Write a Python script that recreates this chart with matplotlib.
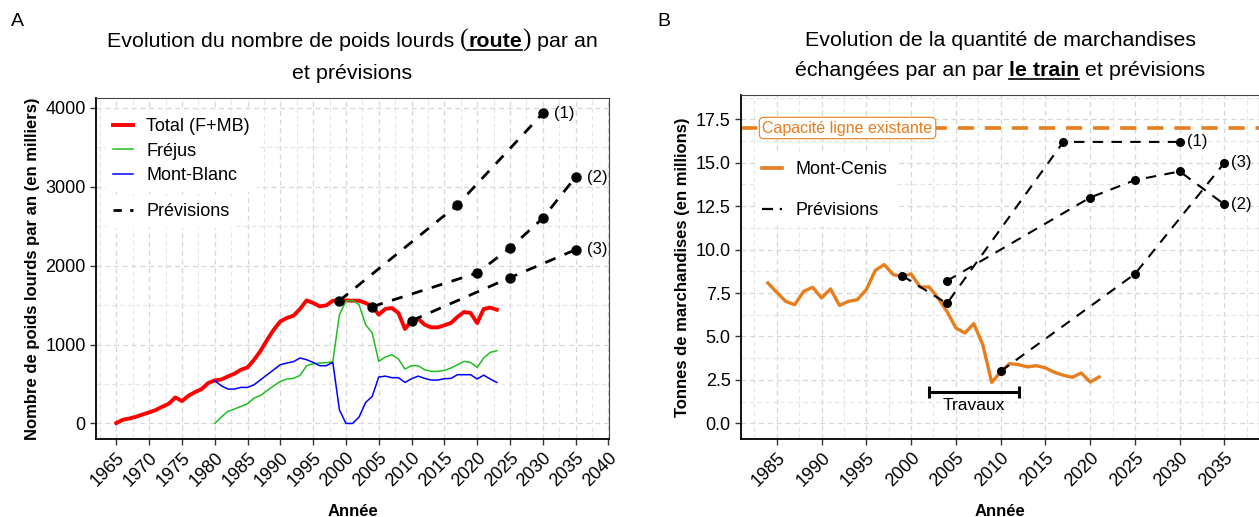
import matplotlib
matplotlib.use("Agg")
import matplotlib.pyplot as plt
from matplotlib.lines import Line2D
import numpy as np

plt.rcParams['font.family'] = ['Liberation Sans', 'DejaVu Sans']

# ---------------- données panneau A (milliers de poids lourds) ----------------
annees_total = list(range(1965, 2024))
total = [5, 47, 63, 85, 114, 140, 170, 212, 250, 330, 284, 351, 398, 436, 512,
         546, 557, 596, 631, 681, 710, 808, 922, 1062, 1189, 1294, 1337, 1366, 1451, 1560,
         1527, 1484, 1497, 1556, 1556, 1560, 1556, 1556, 1527, 1484, 1379, 1451, 1463, 1400, 1197,
         1303, 1328, 1252, 1218, 1218, 1244, 1273, 1350, 1413, 1400, 1273, 1451, 1468, 1442]

annees_tunnels = list(range(1980, 2024))
frejus = [0, 81, 152, 182, 216, 250, 322, 355, 419, 478, 533, 563, 571, 609, 732,
          757, 766, 770, 783, 1379, 1550, 1560, 1506, 1252, 1147, 787, 842, 871, 817, 690,
          732, 732, 681, 660, 660, 672, 702, 745, 787, 774, 710, 830, 901, 922]
mont_blanc = [541, 478, 436, 436, 457, 457, 491, 554, 618, 681, 745, 766, 783, 830, 808,
              774, 732, 732, 774, 174, 0, 0, 81, 266, 343, 588, 600, 580, 580, 520,
              567, 600, 571, 550, 550, 567, 571, 618, 618, 618, 563, 613, 563, 520]

prev_a_annees = [[1999, 2017, 2030], [2004, 2020, 2025, 2030, 2035], [2010, 2025, 2035]]
prev_a_valeurs = [[1556, 2770, 3930], [1480, 1907, 2223, 2601, 3122], [1302, 1848, 2202]]
prev_labels = ["(1)", "(2)", "(3)"]

# ---------------- données panneau B (millions de tonnes) ----------------
annees_mc = list(range(1984, 2022))
mont_cenis = [8.08, 7.54, 7.02, 6.83, 7.60, 7.83, 7.22, 7.74, 6.79, 7.02, 7.12, 7.70, 8.81, 9.14, 8.56,
              8.46, 8.60, 7.85, 7.85, 7.22, 6.45, 5.49, 5.20, 5.74, 4.53, 2.36, 2.96, 3.44, 3.38, 3.25,
              3.32, 3.19, 2.94, 2.77, 2.65, 2.90, 2.38, 2.67]

prev_b_annees = [[1999, 2004, 2017, 2030], [2004, 2020, 2025, 2030, 2035], [2010, 2025, 2035]]
prev_b_valeurs = [[8.5, 6.9, 16.2, 16.2], [8.2, 13.0, 14.0, 14.5, 12.6], [3.0, 8.6, 15.0]]
prev_b_labels = ["(1)", "(2)", "(3)"]

capacite = 17
travaux_debut, travaux_fin, travaux_y = 2002, 2012, 1.8

ROUGE = '#ff0000'
VERT = '#1fbf1f'
BLEU = '#0000ff'
ORANGE = '#e87d1e'

W, H = 1259, 517
fig = plt.figure(figsize=(W / 100, H / 100), dpi=100)


def fx(px):
    return px / W


def fy(py):
    return 1 - py / H


def style_axes(ax, xmaj, xmin, ymaj, ymin):
    ax.set_facecolor('white')
    ax.set_xticks(xmaj)
    ax.set_xticks(xmin, minor=True)
    ax.set_yticks(ymaj)
    ax.set_yticks(ymin, minor=True)
    ax.grid(True, which='major', color='#d6d6d6', ls=(0, (4, 3)), lw=0.9)
    ax.grid(True, which='minor', color='#e4e4e4', ls=(0, (4, 3)), lw=0.8)
    ax.set_axisbelow(True)
    for s in ['top', 'right']:
        ax.spines[s].set_color('#444444')
        ax.spines[s].set_linewidth(0.8)
    for s in ['left', 'bottom']:
        ax.spines[s].set_color('black')
        ax.spines[s].set_linewidth(1.3)
    ax.tick_params(which='major', length=4, width=1, color='#333333', labelsize=13, labelcolor='black')
    ax.tick_params(which='minor', length=0)
    for lab in ax.get_xticklabels():
        lab.set_rotation(45)
        lab.set_ha('right')
        lab.set_va('top')
        lab.set_rotation_mode('anchor')


def legende_blanche(leg):
    leg.get_frame().set_facecolor('white')
    leg.get_frame().set_edgecolor('none')
    leg.get_frame().set_alpha(1)


# ---------------- panneau A ----------------
axA = fig.add_axes([fx(96), fy(439), fx(609) - fx(96), fy(98) - fy(439)])
axA.plot(annees_total, total, color=ROUGE, lw=2.8, solid_joinstyle='round', zorder=3)
axA.plot(annees_tunnels, frejus, color=VERT, lw=1.1, zorder=3)
axA.plot(annees_tunnels, mont_blanc, color=BLEU, lw=1.1, zorder=3)
for xs, ys, lab in zip(prev_a_annees, prev_a_valeurs, prev_labels):
    axA.plot(xs, ys, color='black', lw=2.0, ls=(0, (4, 3.5)), zorder=4)
    axA.plot(xs, ys, 'o', color='black', ms=6.5, zorder=5)
    axA.annotate(lab, (xs[-1], ys[-1]), xytext=(8, 0), textcoords='offset points',
                 fontsize=12, va='center', ha='left')
axA.set_xlim(1961.9, 2040.1)
axA.set_ylim(-197, 4125)
style_axes(axA, np.arange(1965, 2041, 5), np.arange(1962.5, 2041, 5),
           np.arange(0, 4001, 1000), np.arange(500, 4001, 1000))
axA.set_xlabel("Année", fontsize=12, fontweight='bold', labelpad=10)
axA.set_ylabel("Nombre de poids lourds par an (en milliers)", fontsize=12, fontweight='bold', labelpad=4)

hA = [Line2D([], [], color=ROUGE, lw=2.8),
      Line2D([], [], color=VERT, lw=1.1),
      Line2D([], [], color=BLEU, lw=1.1)]
legA = axA.legend(hA, ["Total (F+MB)", "Fréjus", "Mont-Blanc"], loc='upper left',
                  bbox_to_anchor=(0.0195, 0.962), fontsize=13, handlelength=1.1, handletextpad=0.72,
                  labelspacing=0.42, frameon=True, borderaxespad=0, borderpad=0.4)
legende_blanche(legA)
axA.add_artist(legA)
legA2 = axA.legend([Line2D([], [], color='black', lw=2.0, ls=(0, (3, 3)))], ["Prévisions"],
                   loc='upper left', bbox_to_anchor=(0.0195, 0.712), fontsize=13, handlelength=1.1,
                   handletextpad=0.72, frameon=True, borderaxespad=0, borderpad=0.4)
legende_blanche(legA2)

# ---------------- panneau B ----------------
axB = fig.add_axes([fx(741), fy(439), fx(1258.5) - fx(741), fy(95) - fy(439)])
axB.axhline(capacite, color=ORANGE, lw=2.6, ls=(0, (4.5, 3)), zorder=2)
axB.plot(annees_mc, mont_cenis, color=ORANGE, lw=2.4, zorder=3)
for xs, ys, lab in zip(prev_b_annees, prev_b_valeurs, prev_b_labels):
    axB.plot(xs, ys, color='black', lw=1.5, ls=(0, (5, 4)), zorder=4)
    axB.plot(xs, ys, 'o', color='black', ms=5.5, zorder=5)
    axB.annotate(lab, (xs[-1], ys[-1]), xytext=(5, 0), textcoords='offset points',
                 fontsize=12, va='center', ha='left')
axB.errorbar((travaux_debut + travaux_fin) / 2, travaux_y, xerr=(travaux_fin - travaux_debut) / 2,
             color='black', lw=2.2, capsize=4, capthick=2.2, zorder=4)
axB.text((travaux_debut + travaux_fin) / 2, travaux_y - 0.35, "Travaux", fontsize=12.5,
         ha='center', va='top')
axB.text(1992.9, capacite, "Capacité ligne existante", fontsize=11.5, color=ORANGE,
         ha='center', va='center', zorder=6,
         bbox=dict(boxstyle='round,pad=0.2,rounding_size=0.3', fc='white', ec=ORANGE, lw=0.8))
axB.set_xlim(1981.0, 2038.8)
axB.set_ylim(-0.9, 18.9)
style_axes(axB, np.arange(1985, 2036, 5), np.arange(1982.5, 2039, 5),
           np.arange(0, 17.6, 2.5), np.arange(1.25, 18.9, 2.5))
axB.yaxis.set_major_formatter(matplotlib.ticker.FormatStrFormatter('%.1f'))
axB.set_xlabel("Année", fontsize=12, fontweight='bold', labelpad=10)
axB.set_ylabel("Tonnes de marchandises (en millions)", fontsize=12, fontweight='bold', labelpad=4)

hB = [Line2D([], [], color=ORANGE, lw=2.6),
      Line2D([], [], color='black', lw=1.6, ls=(0, (5, 3, 1.2, 3)))]
legB = axB.legend(hB, ["Mont-Cenis", "Prévisions"], loc='upper left',
                  bbox_to_anchor=(0.027, 0.828), fontsize=13, handlelength=1.1, handletextpad=0.75,
                  labelspacing=1.3, frameon=True, borderaxespad=0, borderpad=0.4)
legende_blanche(legB)

# ---------------- titres riches ----------------
renderer = fig.canvas.get_renderer()


def largeur(texte, **kw):
    t1 = fig.text(0, 0, "x" + texte + "x", **kw)
    t2 = fig.text(0, 0, "xx", **kw)
    w = t1.get_window_extent(renderer).width - t2.get_window_extent(renderer).width
    t1.remove()
    t2.remove()
    return w


def titre_riche(cx, cy, morceaux, size=15.4):
    # morceaux : (texte, gras, souligne, famille, taille relative)
    specs = []
    for texte, gras, soul, fam, rel in morceaux:
        kw = dict(fontsize=size * rel, fontweight='bold' if gras else 'normal')
        if fam:
            kw['family'] = fam
        specs.append((texte, kw, soul, largeur(texte, **kw)))
    total_w = sum(s[3] for s in specs)
    x = cx - total_w / 2
    for texte, kw, soul, w in specs:
        fig.text(fx(x), fy(cy), texte, ha='left', va='baseline', **kw)
        if soul:
            fig.add_artist(Line2D([fx(x), fx(x + w)], [fy(cy + 3), fy(cy + 3)], color='black', lw=1.2))
        x += w


titre_riche(352, 47, [("Evolution du nombre de poids lourds ", False, False, None, 1),
                      ("(", False, False, 'Liberation Serif', 1.2),
                      ("route", True, True, None, 1),
                      (")", False, False, 'Liberation Serif', 1.2),
                      (" par an", False, False, None, 1)])
titre_riche(352, 79, [("et prévisions", False, False, None, 1)])
titre_riche(1000, 46, [("Evolution de la quantité de marchandises", False, False, None, 1)])
titre_riche(1000, 76, [("échangées par an par ", False, False, None, 1),
                       ("le train", True, True, None, 1),
                       (" et prévisions", False, False, None, 1)])

fig.text(fx(11), fy(26), "A", fontsize=14, ha='left', va='baseline')
fig.text(fx(657), fy(26), "B", fontsize=14, ha='left', va='baseline')

fig.savefig("out.png", dpi=100)
